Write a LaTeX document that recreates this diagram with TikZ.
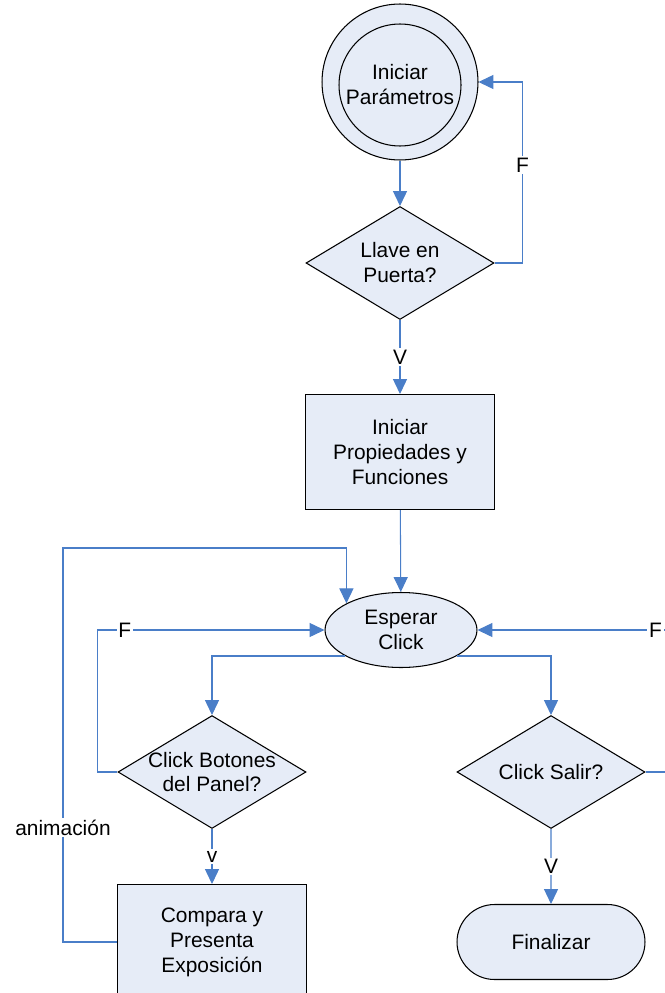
\documentclass[tikz,border=0pt]{standalone}
\usepackage{fontspec}
\setmainfont{Liberation Sans}
\usetikzlibrary{arrows.meta,shapes.geometric,shapes.misc}
\definecolor{linea}{RGB}{74,126,200}
\definecolor{relleno}{RGB}{230,236,247}

\begin{document}
\begin{tikzpicture}[x=0.02cm,y=-0.02cm,font=\fontsize{11.9}{14.2}\selectfont,
  caja/.style={draw,fill=relleno,line width=0.6pt,align=center,inner sep=0pt},
  proc/.style={caja,rectangle,minimum width=3.78cm,minimum height=2.3cm},
  dec/.style={caja,diamond,minimum width=3.76cm,minimum height=2.26cm},
  arr/.style={-{Triangle[length=8.5pt,width=8pt]},draw=linea,fill=none,line width=0.6pt},
  lbl/.style={fill=white,inner sep=1pt}]
                      \useasboundingbox (0,0) rectangle (664,993);

                      \node[caja,circle,minimum size=3.12cm] (ini) at (400,82) {};
                      \node[caja,circle,minimum size=2.44cm] (inib) at (400,85) {Iniciar\\Parámetros};
                      \node[dec,label={[align=center]center:{Llave en\\Puerta?}}] (llave) at (400,263) {};
                      \node[proc] (prop) at (400,452) {Iniciar\\Propiedades y\\Funciones};
                      \node[caja,ellipse,minimum width=3.04cm,minimum height=1.5cm] (esp) at (401,630) {Esperar\\Click};
                      \node[dec,label={[align=center]center:{Click Botones\\del Panel?}}] (bot) at (212,772) {};
                      \node[dec,label={[align=center]center:{Click Salir?}}] (sal) at (551,772) {};
                      \node[proc] (comp) at (212,942) {Compara y\\Presenta\\Exposición};
                      \node[caja,rounded rectangle,minimum width=3.76cm,minimum height=1.5cm] (fin) at (551,942) {Finalizar};
                      \coordinate (anim) at (63,548);

                      \draw[arr] (ini) -- (llave);
                      \draw[arr] (llave.east) -- ++(28,0) |- node[lbl,pos=0.27] {F} (ini.east);
                      \draw[arr] (llave) -- node[lbl] {V} (prop);
                      \draw[arr] (prop) -- (esp);
                      \draw[arr] (esp.205) -| (bot);
                      \draw[arr] (esp.335) -| (sal);
                      \draw[arr] (bot.west) -- ++(-20,0) |- node[lbl,pos=0.56] {F} (esp.west);
                      \draw[arr] (sal.east) -- ++(40,0) |- node[lbl,pos=0.572] {F} (esp.east);
                      \draw[arr] (bot) -- node[lbl] {v} (comp);
                      \draw[arr] (sal) -- node[lbl] {V} (fin);
                      \draw[arr] (comp.west) -| node[lbl,pos=0.645] {animación} (anim) -| (esp.154);
                    \end{tikzpicture}
\end{document}
